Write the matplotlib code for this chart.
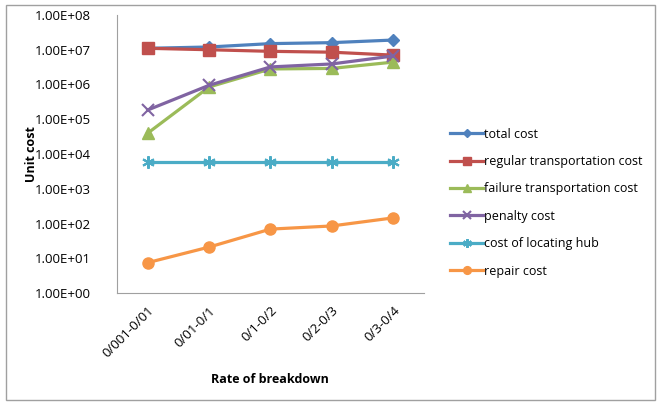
import matplotlib
matplotlib.use("Agg")
import matplotlib.pyplot as plt
from matplotlib.patches import Rectangle
from matplotlib.ticker import FuncFormatter, LogLocator, NullLocator

plt.rcParams['font.family'] = ['Open Sans', 'DejaVu Sans']

# data
rates = ['0/001-0/01', '0/01-0/1', '0/1-0/2', '0/2-0/3', '0/3-0/4']
total_cost = [1.1e7, 1.2e7, 1.5e7, 1.6e7, 1.9e7]
regular_cost = [1.1e7, 1.0e7, 9.0e6, 8.5e6, 7.0e6]
failure_cost = [4.0e4, 8.5e5, 2.8e6, 2.9e6, 4.4e6]
penalty_cost = [1.85e5, 9.5e5, 3.2e6, 3.9e6, 6.6e6]
hub_cost = [5.9e3, 5.9e3, 5.9e3, 5.9e3, 5.9e3]
repair_cost = [7.5, 21, 69, 85, 145]

series = [
    ('total cost', total_cost, '#4F81BD', 'D', 6),
    ('regular transportation cost', regular_cost, '#C0504D', 's', 8),
    ('failure transportation cost', failure_cost, '#9BBB59', '^', 8),
    ('penalty cost', penalty_cost, '#8064A2', 'x', 8),
    ('cost of locating hub', hub_cost, '#4BACC6', (6, 2, 0), 9),
    ('repair cost', repair_cost, '#F79646', 'o', 8),
]

fig = plt.figure(figsize=(6.62, 4.05), dpi=100)
fig.patches.append(Rectangle((0.009, 0.012), 0.98, 0.975, transform=fig.transFigure,
                             fill=False, edgecolor='#A0A0A0', linewidth=1))

ax = fig.add_axes([0.177, 0.2765, 0.463, 0.6865])
x = range(len(rates))
for label, vals, color, marker, ms in series:
    ax.plot(x, vals, color=color, marker=marker, markersize=ms, linewidth=2.3,
            markeredgewidth=1.5 if marker in ('x', (6, 2, 0)) else 1,
            markeredgecolor=color, label=label)

ax.set_yscale('log')
ax.set_ylim(1, 1e8)
ax.set_xlim(-0.5, len(rates) - 0.5)
ax.yaxis.set_major_locator(LogLocator(base=10, numticks=10))
ax.yaxis.set_minor_locator(NullLocator())
ax.yaxis.set_major_formatter(FuncFormatter(lambda v, p: '%.2E' % v))
ax.set_xticks(list(x))
ax.set_xticklabels(rates, rotation=45, ha='right', rotation_mode='anchor')
ax.tick_params(axis='both', length=0, labelsize=9.5)
ax.tick_params(axis='y', pad=19)
ax.tick_params(axis='x', pad=8)

for s in ['top', 'right']:
    ax.spines[s].set_visible(False)
for s in ['left', 'bottom']:
    ax.spines[s].set_color('#A0A0A0')

ax.set_xlabel('Rate of breakdown', fontsize=9, fontweight='bold')
ax.set_ylabel('Unit cost', fontsize=9, fontweight='bold')
ax.xaxis.set_label_coords(0.498, -0.288)
ax.yaxis.set_label_coords(-0.257, 0.5)

ax.legend(loc='center left', bbox_to_anchor=(1.05, 0.325), frameon=False, fontsize=9,
          handlelength=2.6, handletextpad=0.1, labelspacing=1.15, markerscale=0.7)

fig.savefig('out.png', dpi=100)
